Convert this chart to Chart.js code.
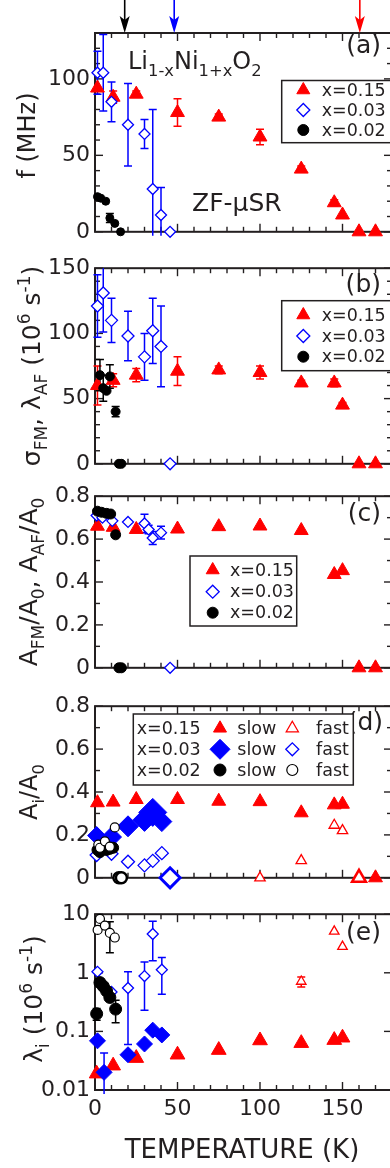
<!DOCTYPE html>
<html>
<head>
<meta charset="utf-8">
<script src="https://cdn.jsdelivr.net/npm/chart.js@4.4.1/dist/chart.umd.min.js"></script>
<style>
  html, body { margin: 0; padding: 0; background: #fff; overflow: hidden; }
  body { position: relative; width: 390px; height: 1168px; }
  canvas { position: absolute; left: 0; }
</style>
</head>
<body>
<canvas id="pa" width="392" height="250" style="top:0px"></canvas>
<canvas id="pb" width="392" height="232" style="top:250px"></canvas>
<canvas id="pc" width="392" height="208" style="top:478px"></canvas>
<canvas id="pd" width="392" height="208" style="top:688px"></canvas>
<canvas id="pe" width="392" height="272" style="top:896px"></canvas>
<script>
// ---------- data ----------
// temperatures (K)
var temps15 = [1.5, 11, 25, 50, 75, 100, 125, 145, 150, 160, 170];
var temps03 = [1.5, 5, 10, 20, 30, 35, 40, 45.5];

// (a) muon precession frequency f (MHz)
var fA15 = [94, 88, 90, 78, 75, 62, 41, 19, 11, 0, 0];
var eA15 = [0, 4, 2, 9, 2, 5, 2, 2, 0, 0, 0];
var fA03 = [104, 104, 85, 70, 64, 28, 11, 0];
var eA03 = [14, 25, 13, 27, 9.5, 52, 18, 0];
var tA02 = [1.5, 3.5, 6.5, 9, 12, 15.5];
var fA02 = [23, 22, 20, 9, 5.5, 0];
var eA02 = [0, 0, 0, 3, 0, 0];

// (b) sigma_FM, lambda_AF (10^6 s^-1)
var sB15 = [60, 64, 68, 71, 72, 70, 62, 62, 45, 0, 0];
var eB15 = [15, 5, 5, 11, 3, 5, 2, 3, 2, 0, 0];
var sB03 = [121, 131, 110, 98, 82, 102, 90, 0];
var eB03 = [24, 30, 17, 19, 18, 25, 31, 0];
var tB02 = [3, 5, 7, 9, 12.5, 14.5, 16];
var sB02 = [68, 58, 56, 67, 40, 0, 0];
var eB02 = [12, 10, 0, 9, 4, 0, 0];

// (c) A_FM/A0, A_AF/A0
var aC15 = [0.66, 0.655, 0.645, 0.647, 0.658, 0.661, 0.64, 0.435, 0.453, 0, 0];
var tC03 = [1, 4.5, 10.5, 20, 30, 32.5, 35, 40, 45.5];
var aC03 = [0.71, 0.70, 0.685, 0.68, 0.673, 0.645, 0.605, 0.63, 0];
var eC03 = [0, 0, 0, 0, 0.043, 0.02, 0.03, 0.03, 0];
var tC02 = [1.5, 4, 7, 9.5, 12.5, 14.5, 16];
var aC02 = [0.73, 0.725, 0.72, 0.717, 0.62, 0, 0];

// (d) A_i/A0, slow and fast components
var tD15s = [1.5, 11, 25, 50, 75, 100, 125, 145, 150, 170];
var aD15s = [0.35, 0.353, 0.365, 0.365, 0.357, 0.355, 0.303, 0.34, 0.343, 0];
var tD15f = [100, 125, 145, 150, 160];
var aD15f = [0, 0.08, 0.245, 0.22, 0];
var tD03s = [1, 10, 20, 30, 35, 40.5];
var aD03s = [0.197, 0.19, 0.24, 0.27, 0.305, 0.262];
var tD03f = [1, 10, 20, 30, 35, 40.5, 45.5];
var aD03f = [0.106, 0.112, 0.075, 0.058, 0.079, 0.115, 0];
var tD02s = [1.5, 3, 5, 7, 9, 11];
var aD02s = [0.13, 0.12, 0.14, 0.13, 0.135, 0.14];
var tD02f = [2, 3, 6, 9, 12, 14.5, 16];
var aD02f = [0.155, 0.14, 0.17, 0.145, 0.235, 0, 0];

// (e) lambda_i (10^6 s^-1), log scale
var tE15s = [1, 11, 25, 50, 75, 100, 125, 145, 150];
var lE15s = [0.019, 0.026, 0.035, 0.04, 0.048, 0.07, 0.063, 0.071, 0.078];
var tE15f = [125, 145, 150];
var lE15f = [0.71, 5.1, 2.8];
var eE15f = [0.14, 0, 0];
var tE03s = [1.5, 5.5, 20, 30, 35, 40.5];
var lE03s = [0.069, 0.02, 0.04, 0.061, 0.105, 0.087];
var eE03s = [0, 0.023, 0, 0, 0, 0];
var tE03f = [1.5, 10, 20, 30, 35, 40.5];
var lE03f = [1.04, 0.47, 0.55, 0.88, 4.6, 1.13];
var eE03f = [0, 0, 0.49, 0.65, 3, 0.7];
var tE02s = [1, 3, 5, 7, 9, 12.5];
var lE02s = [0.2, 0.68, 0.59, 0.49, 0.38, 0.24];
var eE02s = [0.045, 0, 0, 0, 0, 0.1];
var tE02f = [1.6, 3, 6, 9, 12];
var lE02f = [5.4, 8.3, 6.4, 4.8, 4.0];
var eE02f = [0, 0, 0, 2.6, 0];

// tick labels
var tempTicks = [0, 50, 100, 150];
var fTicks = [0, 50, 100];
var sigmaTicks = [0, 50, 100, 150];
var asymTicks = [0, 0.2, 0.4, 0.6, 0.8];
var lambdaTicks = [0.01, 0.1, 1, 10];

// transition temperatures marked by arrows (x=0.02, 0.03, 0.15)
var arrowTemps = [18, 48, 160.5];

// ---------- styles ----------
var RED = '#ff0000', BLUE = '#0000ff', BLACK = '#000000', INK = '#231f20';
var FONT = "'DejaVu Sans', sans-serif";

var M = {
  redUp:     { shape: 'triangle', fill: RED,   stroke: RED,   lw: 1 },
  redOpen:   { shape: 'triangle', fill: '#fff', stroke: RED,  lw: 1.3 },
  blueOpen:  { shape: 'rectRot',  fill: '#fff', stroke: BLUE, lw: 1.3 },
  blueFull:  { shape: 'rectRot',  fill: BLUE,  stroke: BLUE,  lw: 1 },
  blackFull: { shape: 'circle',   fill: BLACK, stroke: BLACK, lw: 1 },
  blackOpen: { shape: 'circle',   fill: '#fff', stroke: BLACK, lw: 1.2 }
};

// marker sizes for panel (d) (points sitting on zero drawn heavier)
var rD03s = [9, 10, 10.5, 11.5, 14, 10];
var rD03f = [6.5, 6.5, 6.5, 6.5, 6.5, 6.5, 10];
var wD03f = [1.3, 1.3, 1.3, 1.3, 1.3, 1.3, 3];
var rD15f = [6, 6, 6, 6, 8];
var wD15f = [1.3, 1.3, 1.3, 1.3, 2.5];
var rD02f = [4.5, 4.5, 4.5, 4.5, 4.5, 5.5, 5.5];
var wD02f = [1.2, 1.2, 1.2, 1.2, 1.2, 2.5, 2.5];

function pts(T, Y) {
  return T.map(function(t, i) { return { x: t, y: Y[i] }; });
}

function series(T, Y, errs, m, r, order, lw) {
  return {
    data: pts(T, Y),
    errs: errs,
    errColor: m.stroke,
    pointStyle: m.shape,
    pointRadius: r,
    pointHoverRadius: r,
    pointBackgroundColor: m.fill,
    pointBorderColor: m.stroke,
    pointBorderWidth: lw || m.lw,
    backgroundColor: m.fill,
    borderColor: m.stroke,
    showLine: false,
    clip: false,
    order: order
  };
}

function line(ctx, x1, y1, x2, y2) {
  ctx.beginPath(); ctx.moveTo(x1, y1); ctx.lineTo(x2, y2); ctx.stroke();
}

function drawMark(ctx, m, x, y, r) {
  ctx.beginPath();
  if (m.shape === 'triangle') {
    ctx.moveTo(x, y - r);
    ctx.lineTo(x + 0.866 * r, y + 0.5 * r);
    ctx.lineTo(x - 0.866 * r, y + 0.5 * r);
    ctx.closePath();
  } else if (m.shape === 'rectRot') {
    ctx.moveTo(x - r, y); ctx.lineTo(x, y - r); ctx.lineTo(x + r, y); ctx.lineTo(x, y + r);
    ctx.closePath();
  } else {
    ctx.arc(x, y, r, 0, Math.PI * 2);
  }
  ctx.fillStyle = m.fill; ctx.fill();
  ctx.lineWidth = m.lw; ctx.strokeStyle = m.stroke; ctx.stroke();
}

// text with sub/superscripts: parts = [[text, 'n'|'sub'|'sup'], ...]
function drawRich(ctx, parts, x, y, size, align) {
  var small = size * 0.68, w = 0;
  parts.forEach(function(p) {
    ctx.font = (p[1] === 'n' ? size : small) + 'px ' + FONT;
    w += ctx.measureText(p[0]).width;
  });
  var cx = align === 'center' ? x - w / 2 : (align === 'right' ? x - w : x);
  parts.forEach(function(p) {
    var s = p[1] === 'n' ? size : small;
    var dy = p[1] === 'sub' ? size * 0.28 : (p[1] === 'sup' ? -size * 0.42 : 0);
    ctx.font = s + 'px ' + FONT;
    ctx.fillText(p[0], cx, y + dy);
    cx += ctx.measureText(p[0]).width;
  });
}

function canvasTop(chart) { return parseFloat(chart.canvas.style.top) || 0; }

// extra decorations per panel (page coordinates)
var extras = {};

// frame with inward tick marks on all four sides
var framePlugin = {
  id: 'frame',
  beforeDatasetsDraw: function(chart) {
    var ex = extras[chart.canvas.id];
    var ctx = chart.ctx, a = chart.chartArea, xs = chart.scales.x, ys = chart.scales.y;
    ctx.save();
    ctx.strokeStyle = INK;
    ctx.lineWidth = 1.4;
    for (var v = 0; v <= 180; v += 10) {
      var px = xs.getPixelForValue(v);
      var len = v % 50 === 0 ? 8 : 5;
      line(ctx, px, a.bottom, px, a.bottom - len);
      line(ctx, px, a.top, px, a.top + len);
    }
    var yv = [];
    if (ys.type === 'logarithmic') {
      lambdaTicks.forEach(function(t) { yv.push([t, true]); });
    } else {
      for (var k = 0; ys.min + k * ex.minor <= ys.max + 1e-9; k++) {
        var val = ys.min + k * ex.minor;
        var q = val / ex.major;
        yv.push([val, Math.abs(q - Math.round(q)) < 1e-6]);
      }
    }
    yv.forEach(function(t) {
      var py = ys.getPixelForValue(t[0]);
      var len = t[1] ? 8 : 5;
      line(ctx, a.left, py, a.left + len, py);
      line(ctx, a.right, py, a.right - len, py);
    });
    ctx.lineWidth = 2;
    ctx.strokeRect(a.left, a.top, a.right - a.left, a.bottom - a.top);
    ctx.restore();
  }
};

// vertical error bars with caps
var errorPlugin = {
  id: 'errorBars',
  beforeDatasetsDraw: function(chart) {
    var ctx = chart.ctx, a = chart.chartArea, xs = chart.scales.x, ys = chart.scales.y;
    ctx.save();
    ctx.beginPath();
    ctx.rect(a.left - 10, a.top, a.right - a.left + 20, a.bottom - a.top + 4);
    ctx.clip();
    chart.data.datasets.forEach(function(d) {
      if (!d.errs) return;
      ctx.strokeStyle = d.errColor;
      ctx.lineWidth = 1.5;
      d.data.forEach(function(p, i) {
        var e = d.errs[i];
        if (!e) return;
        var px = xs.getPixelForValue(p.x);
        var yHi = ys.getPixelForValue(p.y + e);
        var lo = p.y - e;
        var yLo = (ys.type === 'logarithmic' && lo <= 0) ? a.bottom + 10 : ys.getPixelForValue(lo);
        line(ctx, px, yHi, px, yLo);
        line(ctx, px - 4, yHi, px + 4, yHi);
        line(ctx, px - 4, yLo, px + 4, yLo);
      });
    });
    ctx.restore();
  }
};

// axis titles, panel letters and other labels
var notesPlugin = {
  id: 'notes',
  afterDraw: function(chart) {
    var ex = extras[chart.canvas.id];
    if (!ex || !ex.notes) return;
    var ctx = chart.ctx, top = canvasTop(chart);
    ctx.save();
    ctx.fillStyle = INK;
    ctx.textBaseline = 'alphabetic';
    ctx.textAlign = 'left';
    ex.notes.forEach(function(it) {
      ctx.save();
      if (it.rot) {
        ctx.translate(it.x, it.y - top);
        ctx.rotate(-Math.PI / 2);
        drawRich(ctx, it.parts, 0, 0, it.size, 'center');
      } else {
        drawRich(ctx, it.parts, it.x, it.y - top, it.size, it.align || 'left');
      }
      ctx.restore();
    });
    ctx.restore();
  }
};

// boxed legends
var legendPlugin = {
  id: 'boxLegend',
  afterDraw: function(chart) {
    var ex = extras[chart.canvas.id];
    if (!ex || !ex.legend) return;
    var L = ex.legend, ctx = chart.ctx, top = canvasTop(chart);
    var b = L.box;
    ctx.save();
    ctx.fillStyle = '#fff';
    ctx.fillRect(b[0], b[1] - top, b[2] - b[0], b[3] - b[1]);
    ctx.strokeStyle = INK;
    ctx.lineWidth = 1.5;
    ctx.strokeRect(b[0], b[1] - top, b[2] - b[0], b[3] - b[1]);
    ctx.textBaseline = 'middle';
    ctx.textAlign = 'left';
    L.rows.forEach(function(row) {
      row.cells.forEach(function(c) {
        if (c.text) {
          ctx.fillStyle = INK;
          ctx.font = L.size + 'px ' + FONT;
          ctx.fillText(c.text, c.x, row.y - top + 1);
        } else {
          drawMark(ctx, c.m, c.x, row.y - top, c.r);
        }
      });
    });
    ctx.restore();
  }
};

// arrows above panel (a)
var arrowPlugin = {
  id: 'arrows',
  afterDraw: function(chart) {
    var ex = extras[chart.canvas.id];
    if (!ex || !ex.arrows) return;
    var ctx = chart.ctx, a = chart.chartArea, xs = chart.scales.x;
    ctx.save();
    arrowTemps.forEach(function(t, i) {
      var px = xs.getPixelForValue(t);
      var c = ex.arrows[i];
      ctx.strokeStyle = c; ctx.fillStyle = c; ctx.lineWidth = 1.6;
      line(ctx, px, 0, px, a.top - 10);
      ctx.beginPath();
      ctx.moveTo(px, a.top);
      ctx.lineTo(px - 5, a.top - 17);
      ctx.lineTo(px, a.top - 13);
      ctx.lineTo(px + 5, a.top - 17);
      ctx.closePath();
      ctx.fill();
    });
    ctx.restore();
  }
};

function setTicks(list) {
  return function(s) { s.ticks = list.map(function(v) { return { value: v }; }); };
}

function tickFont() {
  return { padding: 5, color: INK, autoSkip: false, maxRotation: 0,
           font: { family: FONT, size: 22 },
           callback: function(v) { return String(v); } };
}

function yAxis(type, min, max, ticks) {
  return {
    type: type, min: min, max: max,
    afterBuildTicks: setTicks(ticks),
    afterFit: function(s) { s.width = 95; },
    grid: { display: false, drawTicks: false },
    border: { display: false },
    ticks: tickFont()
  };
}

function xAxis(show) {
  var t = tickFont();
  t.padding = 6;
  return {
    type: 'linear', min: 0, max: 180, display: show,
    afterBuildTicks: setTicks(tempTicks),
    afterFit: function(s) { if (show) s.height = 78; },
    grid: { display: false, drawTicks: false },
    border: { display: false },
    ticks: t
  };
}

function panel(id, yScale, datasets, pad, showX) {
  return new Chart(document.getElementById(id), {
    type: 'scatter',
    data: { datasets: datasets },
    options: {
      responsive: false,
      animation: false,
      events: [],
      layout: { padding: pad, autoPadding: false },
      scales: { x: xAxis(showX), y: yScale },
      plugins: { legend: { display: false }, tooltip: { enabled: false } }
    },
    plugins: [framePlugin, errorPlugin, notesPlugin, legendPlugin, arrowPlugin]
  });
}

function legend3(box, rows, mx, tx, marks, radii) {
  var labels = ['x=0.15', 'x=0.03', 'x=0.02'];
  return {
    box: box, size: 17.5,
    rows: rows.map(function(y, i) {
      return { y: y, cells: [{ m: marks[i], r: radii[i], x: mx }, { text: labels[i], x: tx }] };
    })
  };
}

// ---------- panel decorations ----------
extras.pa = {
  minor: 10, major: 50,
  arrows: [BLACK, BLUE, RED],
  notes: [
    { parts: [['f (MHz)', 'n']], x: 35, y: 135.5, size: 24, rot: true },
    { parts: [['(a)', 'n']], x: 381, y: 53, size: 25, align: 'right' },
    { parts: [['Li', 'n'], ['1-x', 'sub'], ['Ni', 'n'], ['1+x', 'sub'], ['O', 'n'], ['2', 'sub']], x: 128, y: 69, size: 24 },
    { parts: [['ZF-μSR', 'n']], x: 192, y: 211, size: 25 }
  ],
  legend: legend3([281.7, 80.5, 400, 142.7], [90, 110, 130], 303.3, 321.7,
                  [M.redUp, M.blueOpen, M.blackFull], [7.5, 6.5, 5.5])
};
extras.pb = {
  minor: 10, major: 50,
  notes: [
    { parts: [['σ', 'n'], ['FM', 'sub'], [', λ', 'n'], ['AF', 'sub'], [' (10', 'n'], ['6', 'sup'], [' s', 'n'], ['-1', 'sup'], [')', 'n']],
      x: 40, y: 366, size: 25, rot: true },
    { parts: [['(b)', 'n']], x: 381, y: 291.7, size: 25, align: 'right' }
  ],
  legend: legend3([281.7, 300.7, 400, 370.7], [315, 336, 356.7], 303.3, 321.7,
                  [M.redUp, M.blueOpen, M.blackFull], [7.5, 6.5, 5.5])
};
extras.pc = {
  minor: 0.1, major: 0.2,
  notes: [
    { parts: [['A', 'n'], ['FM', 'sub'], ['/A', 'n'], ['0', 'sub'], [', A', 'n'], ['AF', 'sub'], ['/A', 'n'], ['0', 'sub']],
      x: 37, y: 582, size: 25, rot: true },
    { parts: [['(c)', 'n']], x: 381, y: 520.7, size: 25, align: 'right' }
  ],
  legend: legend3([190, 556, 296.7, 626], [570, 591.7, 612.7], 212.7, 230,
                  [M.redUp, M.blueOpen, M.blackFull], [7.5, 6.5, 5.5])
};
extras.pd = {
  minor: 0.1, major: 0.2,
  notes: [
    { parts: [['A', 'n'], ['i', 'sub'], ['/A', 'n'], ['0', 'sub']], x: 37, y: 792, size: 24, rot: true },
    { parts: [['(d)', 'n']], x: 383, y: 730, size: 25, align: 'right' }
  ],
  legend: {
    box: [133.3, 714, 353.3, 785], size: 17.5,
    rows: [
      { y: 728.3, cells: [{ text: 'x=0.15', x: 136.7 }, { m: M.redUp, r: 7.5, x: 220 }, { text: 'slow', x: 237.3 },
                          { m: M.redOpen, r: 7, x: 292.3 }, { text: 'fast', x: 316 }] },
      { y: 749.3, cells: [{ text: 'x=0.03', x: 136.7 }, { m: M.blueFull, r: 10, x: 220 }, { text: 'slow', x: 237.3 },
                          { m: M.blueOpen, r: 6.5, x: 292.3 }, { text: 'fast', x: 316 }] },
      { y: 770, cells: [{ text: 'x=0.02', x: 136.7 }, { m: M.blackFull, r: 6, x: 220 }, { text: 'slow', x: 237.3 },
                        { m: M.blackOpen, r: 5.5, x: 292.3 }, { text: 'fast', x: 316 }] }
    ]
  }
};
extras.pe = {
  notes: [
    { parts: [['λ', 'n'], ['i', 'sub'], [' (10', 'n'], ['6', 'sup'], [' s', 'n'], ['-1', 'sup'], [')', 'n']],
      x: 42, y: 999, size: 25, rot: true },
    { parts: [['(e)', 'n']], x: 381, y: 940, size: 25, align: 'right' },
    { parts: [['TEMPERATURE (K)', 'n']], x: 242, y: 1158, size: 26, align: 'center' }
  ]
};

// ---------- charts ----------
panel('pa', yAxis('linear', 0, 130, fTicks), [
  series(temps15, fA15, eA15, M.redUp, 8, 3),
  series(temps03, fA03, eA03, M.blueOpen, 5.5, 2),
  series(tA02, fA02, eA02, M.blackFull, 4, 1)
], { top: 33, bottom: 12, left: 0, right: 0 }, false);

panel('pb', yAxis('linear', 0, 150, sigmaTicks), [
  series(temps15, sB15, eB15, M.redUp, 8, 3),
  series(temps03, sB03, eB03, M.blueOpen, 6, 2),
  series(tB02, sB02, eB02, M.blackFull, 4.5, 1)
], { top: 13, bottom: 13, left: 0, right: 0 }, false);

panel('pc', yAxis('linear', 0, 0.8, asymTicks), [
  series(temps15, aC15, null, M.redUp, 8, 3),
  series(tC03, aC03, eC03, M.blueOpen, 5.5, 2),
  series(tC02, aC02, null, M.blackFull, 5, 1)
], { top: 13, bottom: 13, left: 0, right: 0 }, false);

panel('pd', yAxis('linear', 0, 0.8, asymTicks), [
  series(tD15s, aD15s, null, M.redUp, 8, 6),
  series(tD15f, aD15f, null, M.redOpen, rD15f, 5, wD15f),
  series(tD03s, aD03s, null, M.blueFull, rD03s, 4),
  series(tD03f, aD03f, null, M.blueOpen, rD03f, 3, wD03f),
  series(tD02s, aD02s, null, M.blackFull, 5.5, 2),
  series(tD02f, aD02f, null, M.blackOpen, rD02f, 1, wD02f)
], { top: 13, bottom: 13, left: 0, right: 0 }, false);

panel('pe', yAxis('logarithmic', 0.01, 10, lambdaTicks), [
  series(tE15s, lE15s, null, M.redUp, 8.5, 6),
  series(tE15f, lE15f, eE15f, M.redOpen, 5.5, 5),
  series(tE03s, lE03s, eE03s, M.blueFull, 8, 4),
  series(tE03f, lE03f, eE03f, M.blueOpen, 5.5, 3),
  series(tE02s, lE02s, eE02s, M.blackFull, 6, 1),
  series(tE02f, lE02f, eE02f, M.blackOpen, 4.5, 2)
], { top: 13, bottom: 0, left: 0, right: 0 }, true);
</script>
</body>
</html>
